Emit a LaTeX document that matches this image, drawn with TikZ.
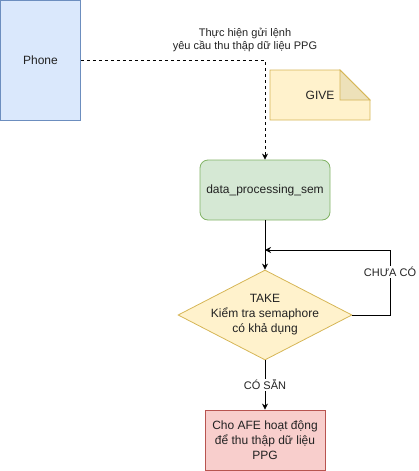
\documentclass[tikz,border=0pt]{standalone}
\usepackage{fontspec}
\setmainfont{Liberation Sans}
\usetikzlibrary{shapes.geometric,arrows.meta}
\definecolor{blueFill}{HTML}{DAE8FC}
\definecolor{blueLine}{HTML}{6C8EBF}
\definecolor{greenFill}{HTML}{D5E8D4}
\definecolor{greenLine}{HTML}{82B366}
\definecolor{yellowFill}{HTML}{FFF2CC}
\definecolor{yellowLine}{HTML}{D6B656}
\definecolor{foldFill}{HTML}{EDE1B9}
\definecolor{redFill}{HTML}{F8CECC}
\definecolor{redLine}{HTML}{B85450}
\definecolor{textCol}{HTML}{222222}
\tikzset{
  box/.style={draw, line width=0.8pt, inner sep=0pt, align=center, text=textCol,
    font=\fontsize{12}{15}\selectfont},
  lbl/.style={fill=white, inner sep=1pt, align=center, text=textCol,
    font=\fontsize{11}{13}\selectfont},
  arr/.style={line width=0.8pt, -{Stealth[length=6pt,width=6pt]}}
}
\begin{document}
\begin{tikzpicture}[x=1pt,y=-1pt]
	\useasboundingbox (0,0) rectangle (418,471);
	% phone
	\node[box, fill=blueFill, draw=blueLine, minimum width=80, minimum height=120] (phone) at (40.5,60.5) {Phone};
	% semaphore
	\node[box, fill=greenFill, draw=greenLine, rounded corners=8pt, minimum width=130, minimum height=60] (sem) at (265,190) {data\_processing\_sem};
	% take
	\node[box, diamond, fill=yellowFill, draw=yellowLine, minimum width=174, minimum height=90] (take) at (265,315) {};
	\node[box, draw=none] (taketext) at (take) {TAKE\\Kiểm tra semaphore\\có khả dụng};
	% afe
	\node[box, fill=redFill, draw=redLine, minimum width=120, minimum height=60] (afe) at (265,440) {Cho AFE hoạt động\\để thu thập dữ liệu\\PPG};
	% give note
	\draw[line width=0.8pt, draw=yellowLine, fill=yellowFill] (270,70) -- (340,70) -- (370,100) -- (370,120) -- (270,120) -- cycle;
	\draw[line width=0.8pt, draw=yellowLine, fill=foldFill] (340,70) -- (340,100) -- (370,100) -- cycle;
	\node[box, draw=none] (give) at (320,95) {GIVE};

	\coordinate (merge) at (265,250);
	\coordinate (loopcorner) at (390,250);

	\draw[arr, dash pattern=on 3pt off 3pt] (phone.east) -| (sem.north);
	\node[lbl, fill=none] (req) at (245,40) {Thực hiện gửi lệnh\\yêu cầu thu thập dữ liệu PPG};
	\draw[arr] (sem.south) -- (take.north);
	\draw[arr] (take.east) -| (loopcorner) -- (merge);
	\node[lbl] (notyet) at (390,272) {CHƯA CÓ};
	\draw[arr] (take.south) -- (afe.north) node[lbl, midway] (ready) {CÓ SẴN};
\end{tikzpicture}
\end{document}
